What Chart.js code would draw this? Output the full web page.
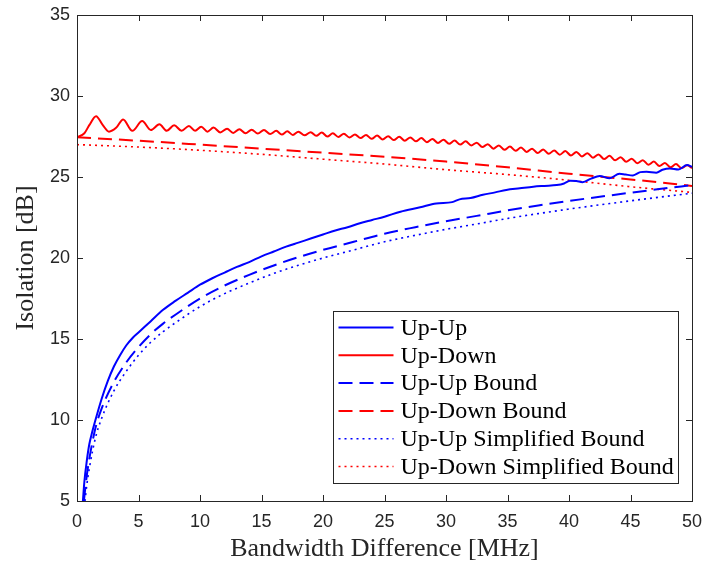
<!DOCTYPE html>
<html>
<head>
<meta charset="utf-8">
<script src="https://cdn.jsdelivr.net/npm/chart.js@4/dist/chart.umd.min.js"></script>
<style>
  html, body { margin: 0; padding: 0; background: #fff; }
</style>
</head>
<body>
<canvas id="myChart" width="703" height="567"></canvas>
<script>
// Up-Up (measured, solid blue)
const upUpX = [0.48, 0.6, 0.8, 1.0, 1.25, 1.5, 2, 2.5, 3, 3.5, 4, 4.5, 5, 5.5, 6, 7, 8, 9, 10, 11, 12, 13, 14, 15, 16, 17, 18, 19, 20,
  21, 22, 23, 24, 25, 26.3, 27.9, 29.2, 30.5, 31.1, 32, 33, 34, 34.9, 36, 37.1, 38, 39, 39.6, 40.1, 40.6, 41.1, 41.8, 42.5,
  43.3, 44.1, 44.6, 45.2, 45.8, 46.3, 47.1, 47.6, 48.2, 48.9, 49.6, 50];
const upUpY = [5, 6.2, 7.5, 8.5, 9.3, 10.0, 11.3, 12.4, 13.3, 14.0, 14.6, 15.05, 15.4, 15.75, 16.1, 16.8, 17.35, 17.85, 18.35, 18.75,
  19.1, 19.45, 19.75, 20.1, 20.4, 20.7, 20.95, 21.2, 21.45, 21.7, 21.9, 22.15, 22.35, 22.55, 22.86, 23.13, 23.37, 23.45, 23.62,
  23.7, 23.9, 24.05, 24.2, 24.3, 24.4, 24.45, 24.5, 24.6, 24.77, 24.75, 24.68, 24.9, 25.06, 24.92, 25.2, 25.15, 25.1, 25.3,
  25.33, 25.27, 25.45, 25.53, 25.47, 25.74, 25.63];

// Up-Down (measured, solid red)
const upDownX = [0, 0.6, 1.0, 1.55, 2.1, 2.6, 3.2, 3.75, 4.5, 5.3, 6.0, 6.7, 7.3, 7.9, 8.5, 9.1, 9.6, 10.1, 10.6, 11.1, 11.65,
  12.2, 12.7, 13.2, 13.7, 14.2, 14.7, 15.2, 15.7, 16.2, 16.65, 17.1, 17.55, 18.0, 18.5, 19.0, 19.45, 19.9, 20.35, 20.8, 21.25,
  21.7, 22.15, 22.6, 23.05, 23.5, 23.95, 24.4, 24.85, 25.3, 25.75, 26.2, 26.65, 27.1, 27.55, 28.0, 28.45, 28.9, 29.35, 29.8,
  30.25, 30.7, 31.15, 31.6, 32.05, 32.5, 32.95, 33.4, 33.85, 34.3, 34.75, 35.2, 35.65, 36.1, 36.55, 37.0, 37.45, 37.9, 38.35,
  38.8, 39.25, 39.7, 40.15, 40.6, 41.05, 41.5, 41.95, 42.4, 42.85, 43.3, 43.75, 44.2, 44.65, 45.1, 45.55, 46.0, 46.45, 46.9,
  47.35, 47.8, 48.25, 48.7, 49.15, 49.6, 50];
const upDownY = [27.45, 27.7, 28.2, 28.75, 28.2, 27.8, 28.05, 28.55, 27.85, 28.45, 27.9, 28.25, 27.85, 28.2, 27.85, 28.15, 27.85,
  28.1, 27.8, 28.05, 27.75, 27.98, 27.72, 27.95, 27.7, 27.92, 27.68, 27.9, 27.65, 27.85, 27.62, 27.82, 27.6, 27.8, 27.57, 27.77,
  27.54, 27.74, 27.5, 27.7, 27.47, 27.67, 27.44, 27.63, 27.4, 27.6, 27.36, 27.56, 27.32, 27.52, 27.28, 27.48, 27.24, 27.44, 27.2,
  27.4, 27.15, 27.35, 27.1, 27.3, 27.05, 27.25, 27.0, 27.2, 26.95, 27.12, 26.85, 27.02, 26.75, 26.95, 26.68, 26.88, 26.62, 26.82,
  26.55, 26.75, 26.48, 26.7, 26.43, 26.64, 26.38, 26.6, 26.33, 26.55, 26.27, 26.47, 26.19, 26.39, 26.11, 26.31, 26.03, 26.22,
  25.94, 26.13, 25.85, 26.04, 25.76, 25.95, 25.68, 25.87, 25.6, 25.8, 25.55, 25.72, 25.55];

// Up-Up Bound (dashed blue)
const upUpBoundX = [0.56, 0.75, 1, 1.5, 2, 3, 4, 5, 6, 7, 8, 10, 12, 14, 16, 18, 20, 22.5, 25, 27.5, 30, 32.5, 35, 37.5, 40,
  42.5, 45, 47.5, 50];
const upUpBoundY = [5.0, 6.3, 7.6, 9.5, 10.7, 12.35, 13.55, 14.5, 15.3, 15.95, 16.5, 17.5, 18.3, 18.96, 19.54, 20.05, 20.5,
  21.0, 21.5, 21.9, 22.27, 22.6, 22.94, 23.24, 23.52, 23.78, 24.03, 24.27, 24.5];

// Up-Down Bound (dashed red)
const upDownBoundX = [0, 5, 10, 15, 20, 25, 30, 35, 40, 45, 50];
const upDownBoundY = [27.45, 27.24, 27.0, 26.75, 26.5, 26.25, 25.95, 25.6, 25.2, 24.85, 24.45];

// Up-Up Simplified Bound (dotted blue)
const upUpSimpX = [0.65, 0.8, 1, 1.5, 2, 3, 4, 5, 6, 7, 8, 10, 12, 14, 16, 18, 20, 22.5, 25, 27.5, 30, 32.5, 35, 37.5, 40,
  42.5, 45, 47.5, 50];
const upUpSimpY = [5.0, 6.0, 7.0, 8.9, 10.1, 11.8, 13.0, 14.0, 14.8, 15.45, 16.0, 17.0, 17.8, 18.45, 19.05, 19.55, 20.0, 20.5,
  21.0, 21.4, 21.77, 22.1, 22.44, 22.74, 23.02, 23.28, 23.53, 23.77, 24.0];

// Up-Down Simplified Bound (dotted red)
const upDownSimpX = [0, 5, 10, 15, 20, 25, 30, 35, 40, 45, 50];
const upDownSimpY = [27.0, 26.85, 26.65, 26.4, 26.1, 25.8, 25.45, 25.15, 24.8, 24.4, 24.05];

const xTicks = [0, 5, 10, 15, 20, 25, 30, 35, 40, 45, 50];
const yTicks = [5, 10, 15, 20, 25, 30, 35];

const axisColor = '#262626';

function pts(xs, ys) {
  return xs.map((x, i) => ({ x: x, y: ys[i] }));
}

function series(label, xs, ys, color, dash) {
  return {
    label: label,
    data: pts(xs, ys),
    borderColor: color,
    backgroundColor: color,
    borderWidth: dash.length && dash[0] < 4 ? 1.6 : 2,
    borderDash: dash,
    pointRadius: 0,
    fill: false,
    cubicInterpolationMode: 'monotone'
  };
}

// axes box, inside tick marks and the legend box (MATLAB look)
const boxPlugin = {
  id: 'matlabBox',
  afterDraw(chart) {
    const ctx = chart.ctx, a = chart.chartArea,
          xs = chart.scales.x, ys = chart.scales.y;
    ctx.save();
    ctx.strokeStyle = axisColor;
    ctx.lineWidth = 1;
    function seg(x1, y1, x2, y2) {
      ctx.beginPath(); ctx.moveTo(x1, y1); ctx.lineTo(x2, y2); ctx.stroke();
    }
    xs.ticks.forEach(t => {
      const px = Math.round(xs.getPixelForValue(t.value)) + 0.5;
      seg(px, a.bottom, px, a.bottom - 6);
      seg(px, a.top, px, a.top + 6);
    });
    ys.ticks.forEach(t => {
      const py = Math.round(ys.getPixelForValue(t.value)) + 0.5;
      seg(a.left, py, a.left + 6, py);
      seg(a.right, py, a.right - 6, py);
    });
    ctx.strokeRect(Math.round(a.left) + 0.5, Math.round(a.top) + 0.5,
                   Math.round(a.right - a.left), Math.round(a.bottom - a.top));

    // legend
    const sets = chart.data.datasets,
          w = 345, rowH = 27.8,
          h = Math.round(sets.length * rowH + 5),
          lx = Math.round(a.right - 14 - w) + 0.5,
          ly = Math.round(a.bottom - 18 - h) + 0.5;
    ctx.fillStyle = '#fff';
    ctx.fillRect(lx, ly, w, h);
    ctx.strokeRect(lx, ly, w, h);
    ctx.font = '24px "Liberation Serif"';
    ctx.textBaseline = 'middle';
    sets.forEach((d, i) => {
      const y = ly + 16 + i * rowH;
      ctx.strokeStyle = d.borderColor;
      ctx.lineWidth = d.borderWidth;
      ctx.setLineDash(d.borderDash);
      seg(lx + 5, y, lx + 60, y);
      ctx.setLineDash([]);
      ctx.fillStyle = '#000';
      ctx.fillText(d.label, lx + 67, y + 1);
    });
    ctx.restore();
  }
};

const chart = new Chart(document.getElementById('myChart').getContext('2d'), {
  type: 'line',
  data: {
    datasets: [
      series('Up-Up', upUpX, upUpY, '#0000ff', []),
      series('Up-Down', upDownX, upDownY, '#ff0000', []),
      series('Up-Up Bound', upUpBoundX, upUpBoundY, '#0000ff', [14, 7]),
      series('Up-Down Bound', upDownBoundX, upDownBoundY, '#ff0000', [14, 7]),
      series('Up-Up Simplified Bound', upUpSimpX, upUpSimpY, '#0000ff', [2, 4]),
      series('Up-Down Simplified Bound', upDownSimpX, upDownSimpY, '#ff0000', [2, 4])
    ]
  },
  options: {
    responsive: false,
    animation: false,
    layout: { padding: { top: 15, right: 11, left: 0, bottom: 0 } },
    plugins: {
      legend: { display: false },
      tooltip: { enabled: false }
    },
    scales: {
      x: {
        type: 'linear',
        min: 0, max: 50,
        afterBuildTicks: s => { s.ticks = xTicks.map(v => ({ value: v })); },
        afterFit: s => { s.height = 66; s.paddingLeft = 0; s.paddingRight = 0; },
        grid: { display: false, drawTicks: false },
        border: { display: false },
        ticks: { padding: 10, color: axisColor, font: { family: '"Liberation Sans"', size: 18 }, maxRotation: 0 },
        title: {
          display: true,
          text: 'Bandwidth Difference [MHz]',
          color: axisColor,
          font: { family: '"Liberation Serif"', size: 26 },
          padding: { top: 0, bottom: 2 }
        }
      },
      y: {
        type: 'linear',
        min: 5, max: 35,
        afterBuildTicks: s => { s.ticks = yTicks.map(v => ({ value: v })); },
        afterFit: s => { s.width = 77; s.paddingTop = 0; s.paddingBottom = 0; },
        grid: { display: false, drawTicks: false },
        border: { display: false },
        ticks: { padding: 7, color: axisColor, font: { family: '"Liberation Sans"', size: 18 } },
        title: {
          display: true,
          text: 'Isolation [dB]',
          color: axisColor,
          font: { family: '"Liberation Serif"', size: 26 },
          padding: { top: 11, bottom: 0 }
        }
      }
    }
  },
  plugins: [boxPlugin]
});
</script>
</body>
</html>
